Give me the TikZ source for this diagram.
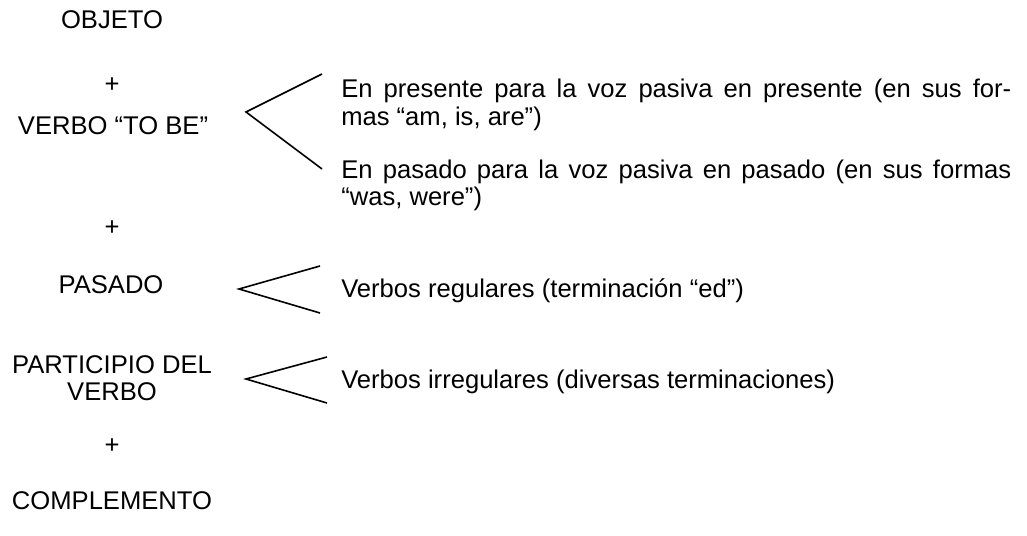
\documentclass[tikz,border=0pt]{standalone}
\usepackage{fontspec}
\setmainfont{Liberation Sans}
\newcommand{\dfont}{\fontsize{19.2}{20.5}\selectfont}
\begin{document}
\begin{tikzpicture}[x=0.75pt,y=-0.75pt,
  lbl/.style={inner sep=0pt, anchor=base, font=\dfont},
  rtxt/.style={inner sep=0pt, anchor=base west, font=\dfont},
  plus/.style={inner sep=0pt, anchor=center, font=\dfont},
  brk/.style={line width=1.2pt, line join=miter}]
\useasboundingbox (0,0) rectangle (1027,535);
% left column
\node[lbl] (obj) at (112,29) {OBJETO};
\node[plus] (p1) at (112,85) {+};
\node[lbl] (tobe) at (113,134) {VERBO “TO BE”};
\node[plus] (p2) at (112,228) {+};
\node[lbl] (pas) at (111,293) {PASADO};
\node[lbl] (part) at (112,373) {\begin{tabular}[t]{@{}c@{}}PARTICIPIO DEL\\VERBO\end{tabular}};
\node[plus] (p3) at (112,446) {+};
\node[lbl] (comp) at (112,509) {COMPLEMENTO};
% right column
\node[rtxt] (pres) at (341,98) {\parbox[t]{502.5pt}{En presente para la voz pasiva en presente (en sus for-\linebreak mas “am, is, are”)}};
\node[rtxt] (past) at (341,178) {\parbox[t]{502.5pt}{En pasado para la voz pasiva en pasado (en sus formas\linebreak “was, were”)}};
\node[rtxt] (reg) at (341,297) {Verbos regulares (terminación “ed”)};
\node[rtxt] (irr) at (341,388) {Verbos irregulares (diversas terminaciones)};
% brackets
\coordinate (b1a) at (322,74);
\coordinate (b1v) at (246,112);
\coordinate (b1b) at (322,169);
\coordinate (b2a) at (320,266);
\coordinate (b2v) at (239,289);
\coordinate (b2b) at (320,313);
\coordinate (b3a) at (327,357);
\coordinate (b3v) at (246,379);
\coordinate (b3b) at (327,403);
\draw[brk] (b1a) -- (b1v) -- (b1b);
\draw[brk] (b2a) -- (b2v) -- (b2b);
\draw[brk] (b3a) -- (b3v) -- (b3b);
\end{tikzpicture}
\end{document}
